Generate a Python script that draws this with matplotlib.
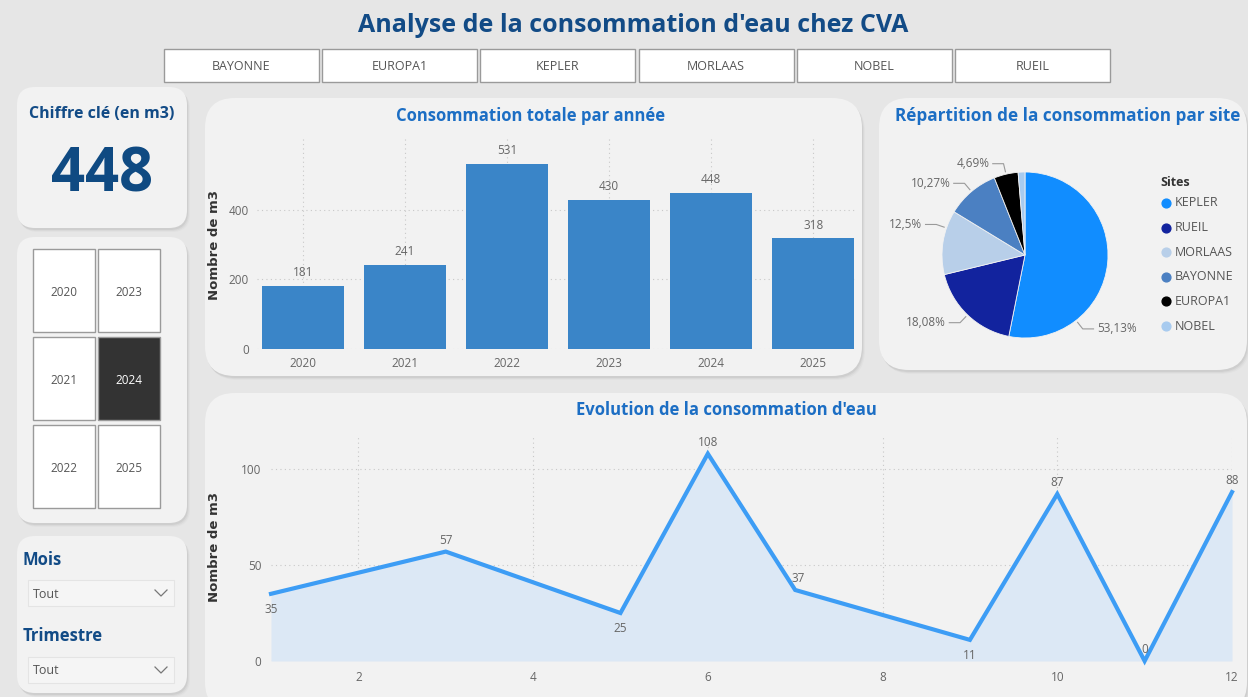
import matplotlib
matplotlib.use('Agg')
import matplotlib.pyplot as plt
from matplotlib.patches import FancyBboxPatch, Rectangle
import numpy as np

plt.rcParams['font.family'] = ['Open Sans', 'DejaVu Sans']

sites = ['BAYONNE', 'EUROPA1', 'KEPLER', 'MORLAAS', 'NOBEL', 'RUEIL']
years = [2020, 2021, 2022, 2023, 2024, 2025]
year_totals = [181, 241, 531, 430, 448, 318]
selected_year = 2024
kpi_value = 448

pie_sites = ['KEPLER', 'RUEIL', 'MORLAAS', 'BAYONNE', 'EUROPA1', 'NOBEL']
pie_shares = [53.13, 18.08, 12.5, 10.27, 4.69, 1.33]
pie_colors = ['#118dff', '#12239e', '#b8cfe9', '#4b80c2', '#000000', '#a8cbef']

months = [1, 3, 5, 6, 7, 9, 10, 11, 12]
month_values = [35, 57, 25, 108, 37, 11, 87, 0, 88]

W, H = 1248, 697
NAVY = '#124b86'
BLUE_T = '#1c6ec4'
GRAY_T = '#666666'

fig = plt.figure(figsize=(W / 100, H / 100), dpi=100)
fig.patch.set_facecolor('#e6e6e6')

# background axes in pixel units (y down)
bg = fig.add_axes([0, 0, 1, 1])
bg.set_xlim(0, W)
bg.set_ylim(H, 0)
bg.axis('off')


def rect(x, y, w, h):
    return [x / W, 1 - (y + h) / H, w / W, h / H]


def panel(x0, y0, x1, y1, r):
    # soft shadow then the card
    for k, a in [(4, 0.04), (3, 0.07), (2, 0.10)]:
        bg.add_patch(FancyBboxPatch((x0 + r + k - 1, y0 + r + k), x1 - x0 - 2 * r, y1 - y0 - 2 * r,
                                    boxstyle=f'round,pad={r}', fc='#707070', ec='none', alpha=a))
    bg.add_patch(FancyBboxPatch((x0 + r, y0 + r), x1 - x0 - 2 * r, y1 - y0 - 2 * r,
                                boxstyle=f'round,pad={r}', fc='#f2f2f2', ec='none'))


def chevron(x, y):
    bg.plot([x - 6, x, x + 6], [y - 3, y + 3, y - 3], color='#777777', lw=0.9)


# main title
bg.text(633, 26, "Analyse de la consommation d'eau chez CVA", ha='center', va='center',
        fontsize=18, fontweight='bold', color=NAVY)

# site slicer buttons
for i, s in enumerate(sites):
    x0 = 164 + i * 158.2
    bg.add_patch(Rectangle((x0, 49), 155, 33, fc='white', ec='#9a9a9a', lw=1))
    bg.text(x0 + 77.5, 66, s, ha='center', va='center', fontsize=9, color='#555555')

# cards
panel(17, 87, 187, 228, 18)
panel(17, 237, 187, 523, 18)
panel(17, 536, 187, 693, 18)
panel(205, 98, 862, 376, 30)
panel(879, 98, 1247, 370, 30)
panel(205, 393, 1247, 712, 30)

# KPI
bg.text(102, 114, 'Chiffre clé (en m3)', ha='center', va='center', fontsize=11.5,
        fontweight='bold', color=NAVY)
bg.text(102, 192, str(kpi_value), ha='center', va='baseline', fontsize=43,
        fontweight='bold', color='#0f4a82')

# year slicer (column-major grid)
for i, yr in enumerate(years):
    col, row = divmod(i, 3)
    x0 = 33 + col * 65
    y0 = 249 + row * 88
    sel = yr == selected_year
    bg.add_patch(Rectangle((x0, y0), 62, 83, fc='#333333' if sel else 'white',
                           ec='#9a9a9a', lw=1))
    bg.text(x0 + 31, y0 + 43, str(yr), ha='center', va='center', fontsize=8.5,
            color='white' if sel else '#555555')

# month / quarter dropdowns
for label, ty, dy in [('Mois', 560, 580), ('Trimestre', 636, 657)]:
    bg.text(23, ty, label, ha='left', va='center', fontsize=12, fontweight='bold', color=NAVY)
    bg.add_patch(Rectangle((28, dy), 146, 26, fc='#f5f5f5', ec='#e4e4e4', lw=0.8))
    bg.text(33, dy + 14, 'Tout', ha='left', va='center', fontsize=9, color='#555555')
    chevron(161, dy + 13)

# ---- bar chart: total per year
bg.text(531, 116, 'Consommation totale par année', ha='center', va='center', fontsize=12,
        fontweight='bold', color=BLUE_T)
bg.text(215, 245, 'Nombre de m3', rotation=90, ha='center', va='center', fontsize=9.5,
        fontweight='semibold', color='#333333', family='DejaVu Sans')
bax = fig.add_axes(rect(257, 138, 599, 211))
bax.patch.set_alpha(0)
bars = bax.bar(range(len(years)), year_totals, width=0.8, color='#3a85c8', zorder=3)
bax.bar_label(bars, padding=5, fontsize=8.5, color=GRAY_T)
bax.set_xticks(range(len(years)))
bax.set_xticklabels([str(y) for y in years])
bax.set_yticks([0, 200, 400])
bax.set_xlim(-0.45, 5.42)
bax.set_ylim(0, 607)
bax.grid(True, ls=(0, (1, 3)), color='#c8c8c8', lw=0.8, zorder=0)
bax.tick_params(length=0, labelsize=8.5, labelcolor=GRAY_T, pad=6)
for sp in bax.spines.values():
    sp.set_visible(False)

# ---- pie chart: share per site
bg.text(1068, 116, 'Répartition de la consommation par site', ha='center', va='center',
        fontsize=12.3, fontweight='bold', color=BLUE_T)
R = 83
pax = fig.add_axes(rect(1025 - 150, 255 - 150, 300, 300))
wedges, _ = pax.pie(pie_shares, colors=pie_colors, startangle=90, counterclock=False,
                    radius=1, wedgeprops=dict(linewidth=0.6, edgecolor='#f2f2f2'))
pax.set_xlim(-150 / R, 150 / R)
pax.set_ylim(-150 / R, 150 / R)
pax.set_aspect('equal')
# Power BI moves a couple of labels away from the slice middle
label_angle = {'KEPLER': -52, 'MORLAAS': 161}
for w, share, site in zip(wedges, pie_shares, pie_sites):
    if share < 2:
        continue
    ang = label_angle.get(site, (w.theta1 + w.theta2) / 2)
    c, s = np.cos(np.radians(ang)), np.sin(np.radians(ang))
    side = 1 if c >= 0 else -1
    p1 = (1.03 * c, 1.03 * s)
    p2 = (1.13 * c, 1.13 * s)
    p3 = (p2[0] + side * 0.13, p2[1])
    pax.plot([p1[0], p2[0], p3[0]], [p1[1], p2[1], p3[1]], color='#9a9a9a', lw=0.8, clip_on=False)
    txt = f'{share:g}'.replace('.', ',') + '%'
    pax.text(p3[0] + side * 0.04, p3[1], txt, ha='left' if side > 0 else 'right', va='center',
             fontsize=8.5, color=GRAY_T, clip_on=False)

bg.text(1160, 183, 'Sites', ha='left', va='center', fontsize=9, fontweight='bold', color='#333333')
for i, (site, col) in enumerate(zip(pie_sites, pie_colors)):
    yy = 203 + i * 24.6
    bg.scatter([1166], [yy], s=40, color=col, zorder=5)
    bg.text(1175, yy, site, ha='left', va='center', fontsize=9, color='#555555')

# ---- line chart: monthly evolution
bg.text(726, 410, "Evolution de la consommation d'eau", ha='center', va='center', fontsize=12,
        fontweight='bold', color=BLUE_T)
bg.text(215, 547, 'Nombre de m3', rotation=90, ha='center', va='center', fontsize=9.5,
        fontweight='semibold', color='#333333', family='DejaVu Sans')
lax = fig.add_axes(rect(271, 437, 961, 224))
lax.patch.set_alpha(0)
lax.fill_between(months, month_values, color='#dce8f5', zorder=2, lw=0)
lax.plot(months, month_values, color='#3d9df5', lw=3, zorder=3, clip_on=False,
         solid_joinstyle='miter')
label_below = [True, False, True, False, False, True, False, False, False]
for m, v, below in zip(months, month_values, label_below):
    lax.annotate(str(v), (m, v), xytext=(2 if v == 37 else 0, -11 if below else 8),
                 textcoords='offset points', ha='center', va='center', fontsize=8.5,
                 color=GRAY_T, zorder=4, annotation_clip=False)
lax.set_xlim(1, 12)
lax.set_ylim(0, 116.7)
lax.set_xticks([2, 4, 6, 8, 10, 12])
lax.set_yticks([0, 50, 100])
lax.grid(True, ls=(0, (1, 3)), color='#c8c8c8', lw=0.8, zorder=0)
lax.tick_params(length=0, labelsize=8.5, labelcolor=GRAY_T, pad=7)
for sp in lax.spines.values():
    sp.set_visible(False)

fig.savefig('out.png', dpi=100, facecolor=fig.get_facecolor())
